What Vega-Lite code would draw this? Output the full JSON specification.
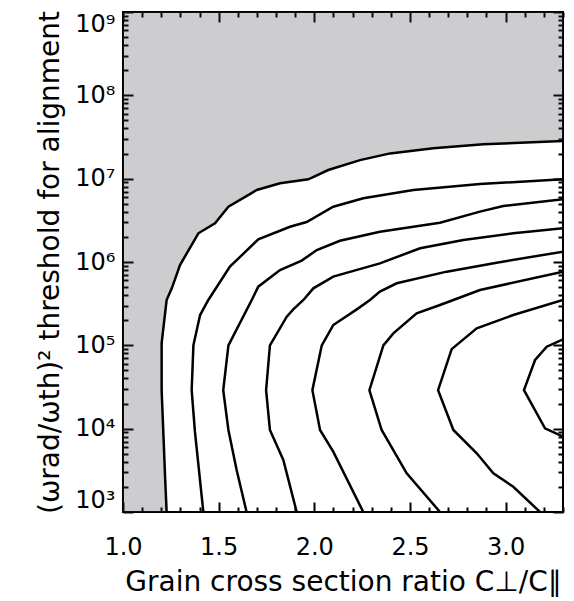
{
  "$schema": "https://vega.github.io/schema/vega-lite/v6.json",
  "width": 440,
  "height": 500,
  "autosize": "none",
  "padding": {"left": 123, "top": 12, "right": 11, "bottom": 89},
  "background": "white",
  "config": {
    "view": {"stroke": "black", "strokeWidth": 2},
    "font": "DejaVu Sans",
    "axis": {
      "domain": false,
      "grid": false,
      "zindex": 1,
      "tickColor": "black",
      "tickWidth": 2,
      "labelColor": "black",
      "labelFont": "DejaVu Sans",
      "labelFontSize": 24,
      "labelOverlap": false,
      "labelBound": false,
      "titleFont": "DejaVu Sans",
      "titleFontSize": 28,
      "titleFontWeight": "normal",
      "titleColor": "black"
    }
  },
  "datasets": {
    "grey": [
      {"r": 3.3, "t": 1e9},
      {"r": 3.3, "t": 2.83e7},
      {"r": 2.884, "t": 2.58e7},
      {"r": 2.622, "t": 2.31e7},
      {"r": 2.396, "t": 2.01e7},
      {"r": 2.239, "t": 1.67e7},
      {"r": 2.073, "t": 1.27e7},
      {"r": 1.969, "t": 9.82e6},
      {"r": 1.821, "t": 8.79e6},
      {"r": 1.699, "t": 7.31e6},
      {"r": 1.551, "t": 4.61e6},
      {"r": 1.481, "t": 2.91e6},
      {"r": 1.394, "t": 2.21e6},
      {"r": 1.298, "t": 9.2e5},
      {"r": 1.255, "t": 4.83e5},
      {"r": 1.228, "t": 3.5e5},
      {"r": 1.202, "t": 1.06e5},
      {"r": 1.202, "t": 2.9e4},
      {"r": 1.22, "t": 2650},
      {"r": 1.228, "t": 1000}
    ],
    "contours": [
      {"c": "A", "i": 0, "r": 3.3, "t": 2.83e7},
      {"c": "A", "i": 1, "r": 2.884, "t": 2.58e7},
      {"c": "A", "i": 2, "r": 2.622, "t": 2.31e7},
      {"c": "A", "i": 3, "r": 2.396, "t": 2.01e7},
      {"c": "A", "i": 4, "r": 2.239, "t": 1.67e7},
      {"c": "A", "i": 5, "r": 2.073, "t": 1.27e7},
      {"c": "A", "i": 6, "r": 1.969, "t": 9.82e6},
      {"c": "A", "i": 7, "r": 1.821, "t": 8.79e6},
      {"c": "A", "i": 8, "r": 1.699, "t": 7.31e6},
      {"c": "A", "i": 9, "r": 1.551, "t": 4.61e6},
      {"c": "A", "i": 10, "r": 1.481, "t": 2.91e6},
      {"c": "A", "i": 11, "r": 1.394, "t": 2.21e6},
      {"c": "A", "i": 12, "r": 1.298, "t": 9.2e5},
      {"c": "A", "i": 13, "r": 1.255, "t": 4.83e5},
      {"c": "A", "i": 14, "r": 1.228, "t": 3.5e5},
      {"c": "A", "i": 15, "r": 1.202, "t": 1.06e5},
      {"c": "A", "i": 16, "r": 1.202, "t": 2.9e4},
      {"c": "A", "i": 17, "r": 1.22, "t": 2650},
      {"c": "A", "i": 18, "r": 1.228, "t": 1000},

      {"c": "B", "i": 0, "r": 3.3, "t": 9.82e6},
      {"c": "B", "i": 1, "r": 2.866, "t": 8.63e6},
      {"c": "B", "i": 2, "r": 2.518, "t": 7.31e6},
      {"c": "B", "i": 3, "r": 2.256, "t": 5.81e6},
      {"c": "B", "i": 4, "r": 2.099, "t": 4.61e6},
      {"c": "B", "i": 5, "r": 1.96, "t": 3.02e6},
      {"c": "B", "i": 6, "r": 1.873, "t": 2.65e6},
      {"c": "B", "i": 7, "r": 1.707, "t": 1.87e6},
      {"c": "B", "i": 8, "r": 1.559, "t": 8.79e5},
      {"c": "B", "i": 9, "r": 1.446, "t": 3.5e5},
      {"c": "B", "i": 10, "r": 1.403, "t": 2.31e5},
      {"c": "B", "i": 11, "r": 1.368, "t": 1.0e5},
      {"c": "B", "i": 12, "r": 1.359, "t": 2.9e4},
      {"c": "B", "i": 13, "r": 1.376, "t": 9200},
      {"c": "B", "i": 14, "r": 1.42, "t": 1000},

      {"c": "C", "i": 0, "r": 3.3, "t": 5.65e6},
      {"c": "C", "i": 1, "r": 2.988, "t": 4.7e6},
      {"c": "C", "i": 2, "r": 2.866, "t": 4.02e6},
      {"c": "C", "i": 3, "r": 2.657, "t": 2.96e6},
      {"c": "C", "i": 4, "r": 2.343, "t": 2.31e6},
      {"c": "C", "i": 5, "r": 2.134, "t": 1.8e6},
      {"c": "C", "i": 6, "r": 2.013, "t": 1.39e6},
      {"c": "C", "i": 7, "r": 1.934, "t": 1.04e6},
      {"c": "C", "i": 8, "r": 1.821, "t": 8.02e5},
      {"c": "C", "i": 9, "r": 1.707, "t": 5.06e5},
      {"c": "C", "i": 10, "r": 1.673, "t": 3.5e5},
      {"c": "C", "i": 11, "r": 1.551, "t": 1.0e5},
      {"c": "C", "i": 12, "r": 1.524, "t": 2.9e4},
      {"c": "C", "i": 13, "r": 1.551, "t": 9640},
      {"c": "C", "i": 14, "r": 1.594, "t": 3190},
      {"c": "C", "i": 15, "r": 1.646, "t": 1000},

      {"c": "D", "i": 0, "r": 3.3, "t": 2.54e6},
      {"c": "D", "i": 1, "r": 3.04, "t": 2.21e6},
      {"c": "D", "i": 2, "r": 2.779, "t": 1.84e6},
      {"c": "D", "i": 3, "r": 2.553, "t": 1.46e6},
      {"c": "D", "i": 4, "r": 2.343, "t": 9.64e5},
      {"c": "D", "i": 5, "r": 2.099, "t": 6.67e5},
      {"c": "D", "i": 6, "r": 1.995, "t": 4.83e5},
      {"c": "D", "i": 7, "r": 1.943, "t": 3.5e5},
      {"c": "D", "i": 8, "r": 1.89, "t": 2.7e5},
      {"c": "D", "i": 9, "r": 1.856, "t": 2.21e5},
      {"c": "D", "i": 10, "r": 1.768, "t": 1.0e5},
      {"c": "D", "i": 11, "r": 1.748, "t": 2.9e4},
      {"c": "D", "i": 12, "r": 1.768, "t": 9640},
      {"c": "D", "i": 13, "r": 1.838, "t": 4210},
      {"c": "D", "i": 14, "r": 1.908, "t": 1000},

      {"c": "E", "i": 0, "r": 3.3, "t": 1.33e6},
      {"c": "E", "i": 1, "r": 2.953, "t": 9.82e5},
      {"c": "E", "i": 2, "r": 2.692, "t": 7.66e5},
      {"c": "E", "i": 3, "r": 2.431, "t": 5.55e5},
      {"c": "E", "i": 4, "r": 2.343, "t": 4.41e5},
      {"c": "E", "i": 5, "r": 2.291, "t": 3.5e5},
      {"c": "E", "i": 6, "r": 2.222, "t": 2.7e5},
      {"c": "E", "i": 7, "r": 2.099, "t": 1.75e5},
      {"c": "E", "i": 8, "r": 2.039, "t": 1.0e5},
      {"c": "E", "i": 9, "r": 1.99, "t": 2.9e4},
      {"c": "E", "i": 10, "r": 2.03, "t": 9640},
      {"c": "E", "i": 11, "r": 2.099, "t": 5300},
      {"c": "E", "i": 12, "r": 2.256, "t": 1000},

      {"c": "F", "i": 0, "r": 3.3, "t": 7.66e5},
      {"c": "F", "i": 1, "r": 2.866, "t": 4.61e5},
      {"c": "F", "i": 2, "r": 2.657, "t": 3.05e5},
      {"c": "F", "i": 3, "r": 2.535, "t": 2.42e5},
      {"c": "F", "i": 4, "r": 2.413, "t": 1.39e5},
      {"c": "F", "i": 5, "r": 2.361, "t": 1.0e5},
      {"c": "F", "i": 6, "r": 2.288, "t": 2.9e4},
      {"c": "F", "i": 7, "r": 2.352, "t": 9640},
      {"c": "F", "i": 8, "r": 2.483, "t": 2910},
      {"c": "F", "i": 9, "r": 2.657, "t": 1000},

      {"c": "G", "i": 0, "r": 3.3, "t": 3.5e5},
      {"c": "G", "i": 1, "r": 3.04, "t": 2.31e5},
      {"c": "G", "i": 2, "r": 2.849, "t": 1.6e5},
      {"c": "G", "i": 3, "r": 2.718, "t": 9.0e4},
      {"c": "G", "i": 4, "r": 2.647, "t": 2.9e4},
      {"c": "G", "i": 5, "r": 2.727, "t": 9640},
      {"c": "G", "i": 6, "r": 2.849, "t": 5060},
      {"c": "G", "i": 7, "r": 2.936, "t": 2910},
      {"c": "G", "i": 8, "r": 3.04, "t": 2010},
      {"c": "G", "i": 9, "r": 3.18, "t": 1000},

      {"c": "H", "i": 0, "r": 3.3, "t": 1.18e5},
      {"c": "H", "i": 1, "r": 3.215, "t": 9.64e4},
      {"c": "H", "i": 2, "r": 3.154, "t": 6.67e4},
      {"c": "H", "i": 3, "r": 3.096, "t": 2.9e4},
      {"c": "H", "i": 4, "r": 3.206, "t": 1.01e4},
      {"c": "H", "i": 5, "r": 3.3, "t": 8020}
    ]
  },
  "layer": [
    {
      "data": {"name": "grey"},
      "mark": {"type": "area", "orient": "horizontal", "color": "#373743", "opacity": 0.25, "clip": true},
      "encoding": {
        "y": {
          "field": "t",
          "type": "quantitative",
          "scale": {"type": "log", "domain": [1000, 1000000000], "nice": false},
          "axis": {
            "orient": "left",
            "values": [1000,2000,3000,4000,5000,6000,7000,8000,9000,10000,20000,30000,40000,50000,60000,70000,80000,90000,100000,200000,300000,400000,500000,600000,700000,800000,900000,1000000,2000000,3000000,4000000,5000000,6000000,7000000,8000000,9000000,10000000,20000000,30000000,40000000,50000000,60000000,70000000,80000000,90000000,100000000,200000000,300000000,400000000,500000000,600000000,700000000,800000000,900000000,1000000000],
            "labelExpr": "abs(log(datum.value)/LN10 - round(log(datum.value)/LN10)) < 1e-6 ? '10' + ['⁰','¹','²','³','⁴','⁵','⁶','⁷','⁸','⁹'][round(log(datum.value)/LN10)] : ''",
            "tickSize": {"condition": {"test": "abs(log(datum.value)/LN10 - round(log(datum.value)/LN10)) < 1e-6", "value": -10}, "value": -5},
            "labelPadding": 18,
            "labelFlush": true,
            "title": "(ωrad/ωth)² threshold for alignment",
            "titlePadding": 10
          }
        },
        "x": {
          "field": "r",
          "type": "quantitative",
          "scale": {"domain": [1, 3.3], "nice": false, "zero": false},
          "axis": {
            "orient": "bottom",
            "values": [1,1.1,1.2,1.3,1.4,1.5,1.6,1.7,1.8,1.9,2,2.1,2.2,2.3,2.4,2.5,2.6,2.7,2.8,2.9,3,3.1,3.2,3.3],
            "labelExpr": "abs(datum.value*2 - round(datum.value*2)) < 1e-6 ? format(datum.value, '.1f') : ''",
            "tickSize": {"condition": {"test": "abs(datum.value*2 - round(datum.value*2)) < 1e-6", "value": -10}, "value": -5},
            "labelPadding": 33,
            "labelFlush": false,
            "title": "Grain cross section ratio C⊥/C∥",
            "titlePadding": 4
          }
        },
        "x2": {"datum": 1}
      }
    },
    {
      "data": {"name": "contours"},
      "mark": {"type": "line", "color": "black", "strokeWidth": 2.5, "clip": true},
      "encoding": {
        "x": {
          "field": "r",
          "type": "quantitative",
          "scale": {"domain": [1, 3.3], "nice": false, "zero": false},
          "axis": {
            "orient": "top",
            "values": [1,1.1,1.2,1.3,1.4,1.5,1.6,1.7,1.8,1.9,2,2.1,2.2,2.3,2.4,2.5,2.6,2.7,2.8,2.9,3,3.1,3.2,3.3],
            "labels": false,
            "title": null,
            "tickSize": {"condition": {"test": "abs(datum.value*2 - round(datum.value*2)) < 1e-6", "value": -10}, "value": -5}
          }
        },
        "y": {
          "field": "t",
          "type": "quantitative",
          "scale": {"type": "log", "domain": [1000, 1000000000], "nice": false},
          "axis": {
            "orient": "right",
            "values": [1000,2000,3000,4000,5000,6000,7000,8000,9000,10000,20000,30000,40000,50000,60000,70000,80000,90000,100000,200000,300000,400000,500000,600000,700000,800000,900000,1000000,2000000,3000000,4000000,5000000,6000000,7000000,8000000,9000000,10000000,20000000,30000000,40000000,50000000,60000000,70000000,80000000,90000000,100000000,200000000,300000000,400000000,500000000,600000000,700000000,800000000,900000000,1000000000],
            "labels": false,
            "title": null,
            "tickSize": {"condition": {"test": "abs(log(datum.value)/LN10 - round(log(datum.value)/LN10)) < 1e-6", "value": -10}, "value": -5}
          }
        },
        "detail": {"field": "c", "type": "nominal"},
        "order": {"field": "i", "type": "quantitative"}
      }
    }
  ],
  "resolve": {"axis": {"x": "independent", "y": "independent"}}
}
